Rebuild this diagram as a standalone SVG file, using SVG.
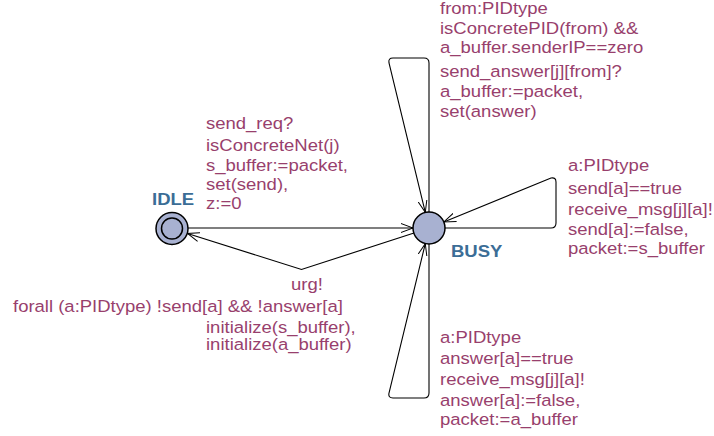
<svg xmlns="http://www.w3.org/2000/svg" width="714" height="436" viewBox="0 0 714 436">
  <style>
    .lbl { font-family: "Liberation Sans", Arial, sans-serif; font-size: 16.3px; fill: #983f6d; }
    .name { font-family: "Liberation Sans", Arial, sans-serif; font-size: 16.3px; font-weight: bold; fill: #3b6d96; }
    .loc { fill: #a8b1d1; stroke: #000; stroke-width: 1.5; }
    .edge { fill: none; stroke: #000; stroke-width: 1.1; }
  </style>
  <defs>
    <marker id="arr" viewBox="0 0 12 10" refX="12" refY="5" markerWidth="12" markerHeight="10" markerUnits="userSpaceOnUse" orient="auto">
      <path d="M0,0.5 L12,5 L0,9.5" fill="none" stroke="#000" stroke-width="1"/>
    </marker>
  </defs>
  <rect width="714" height="436" fill="#fff"/>

  <!-- transitions -->
  <g id="edges">
    <!-- IDLE -> BUSY -->
    <path class="edge" d="M188,228 L413,228" marker-end="url(#arr)"/>
    <!-- BUSY -> IDLE through nail -->
    <path class="edge" d="M414,233 L301.5,269.5 L187.5,233.5" marker-end="url(#arr)"/>
    <!-- upper self-loop -->
    <path class="edge" d="M429,212 L429,63 Q429,58 424,58 L393,58 Q388,58 389,63 L425.3,212.4" marker-end="url(#arr)"/>
    <!-- right self-loop -->
    <path class="edge" d="M445,228 L551,228 Q556,228 556,223 L556,182 Q556,177 551,178 L443.8,222" marker-end="url(#arr)"/>
    <!-- lower self-loop -->
    <path class="edge" d="M429,244 L429,393 Q429,398 424,398 L393,398 Q388,398 389,393 L425.3,243.6" marker-end="url(#arr)"/>
  </g>

  <!-- locations -->
  <g id="IDLE">
    <circle class="loc" cx="172" cy="228.5" r="16"/>
    <circle cx="172" cy="228.5" r="10.5" fill="none" stroke="#000" stroke-width="1.5"/>
    <text class="name" transform="translate(152 205) scale(1.135 1)">IDLE</text>
  </g>
  <g id="BUSY">
    <circle class="loc" cx="429" cy="228" r="16"/>
    <text class="name" transform="translate(451 257) scale(1.135 1)">BUSY</text>
  </g>

  <!-- labels -->
  <g id="label-top">
    <text class="lbl" transform="translate(440 0) scale(1.135 1)">
      <tspan x="0" y="14">from:PIDtype</tspan>
      <tspan x="0" y="34">isConcretePID(from) &amp;&amp;</tspan>
      <tspan x="0" y="53">a_buffer.senderIP==zero</tspan>
      <tspan x="0" y="77">send_answer[j][from]?</tspan>
      <tspan x="0" y="97">a_buffer:=packet,</tspan>
      <tspan x="0" y="117">set(answer)</tspan>
    </text>
  </g>
  <g id="label-req">
    <text class="lbl" transform="translate(206 0) scale(1.135 1)">
      <tspan x="0" y="129">send_req?</tspan>
      <tspan x="0" y="151">isConcreteNet(j)</tspan>
      <tspan x="0" y="171">s_buffer:=packet,</tspan>
      <tspan x="0" y="190">set(send),</tspan>
      <tspan x="0" y="209">z:=0</tspan>
    </text>
  </g>
  <g id="label-send">
    <text class="lbl" transform="translate(568 0) scale(1.135 1)">
      <tspan x="0" y="171">a:PIDtype</tspan>
      <tspan x="0" y="194">send[a]==true</tspan>
      <tspan x="0" y="215">receive_msg[j][a]!</tspan>
      <tspan x="0" y="235">send[a]:=false,</tspan>
      <tspan x="0" y="254">packet:=s_buffer</tspan>
    </text>
  </g>
  <g id="label-answer">
    <text class="lbl" transform="translate(440 0) scale(1.135 1)">
      <tspan x="0" y="343">a:PIDtype</tspan>
      <tspan x="0" y="364">answer[a]==true</tspan>
      <tspan x="0" y="385">receive_msg[j][a]!</tspan>
      <tspan x="0" y="406">answer[a]:=false,</tspan>
      <tspan x="0" y="425">packet:=a_buffer</tspan>
    </text>
  </g>
  <g id="label-urg">
    <text class="lbl" transform="translate(291 290) scale(1.135 1)">urg!</text>
    <text class="lbl" transform="translate(13 312) scale(1.135 1)">forall (a:PIDtype) !send[a] &amp;&amp; !answer[a]</text>
    <text class="lbl" transform="translate(206 0) scale(1.135 1)">
      <tspan x="0" y="333">initialize(s_buffer),</tspan>
      <tspan x="0" y="350">initialize(a_buffer)</tspan>
    </text>
  </g>
</svg>
